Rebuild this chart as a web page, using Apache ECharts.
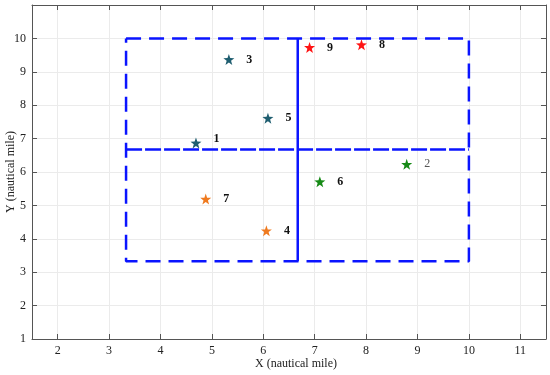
<!DOCTYPE html>
<html>
<head>
<meta charset="utf-8">
<script src="https://cdn.jsdelivr.net/npm/echarts@6/dist/echarts.min.js"></script>
<style>html,body{margin:0;padding:0;background:#fff;}#c{width:550px;height:375px;}</style>
</head>
<body>
<div id="c"></div>
<script>
// ---- data ----
const xTicks = [2, 3, 4, 5, 6, 7, 8, 9, 10, 11];
const yTicks = [1, 2, 3, 4, 5, 6, 7, 8, 9, 10];
const shipIds = ['1', '2', '3', '4', '5', '6', '7', '8', '9'];
const shipX = [4.69, 8.79, 5.33, 6.06, 6.09, 7.10, 4.88, 7.91, 6.90];
const shipY = [6.87, 6.23, 9.37, 4.24, 7.61, 5.71, 5.19, 9.81, 9.73];
const shipGroup = ['teal', 'green', 'teal', 'orange', 'teal', 'green', 'orange', 'red', 'red'];
const regionOuterX = [3.33, 10, 10, 3.33, 3.33];
const regionOuterY = [10, 10, 3.33, 3.33, 10];
const regionMidHX = [3.33, 10];
const regionMidHY = [6.67, 6.67];
const regionMidVX = [6.67, 6.67];
const regionMidVY = [10, 3.33];

// ---- styles ----
const groupColor = { teal: '#1f5e70', green: '#168a16', orange: '#ef7a1f', red: '#ff1414' };
const starPath = 'path://M0,-10 L2.35,-3.24 9.51,-3.09 3.8,1.24 5.88,8.09 0,4 -5.88,8.09 -3.8,1.24 -9.51,-3.09 -2.35,-3.24 Z';
const font = 'Liberation Serif';
const blue = '#0a14ff';

function zip(xs, ys) { return xs.map((x, i) => [x, ys[i]]); }

const starSeries = shipIds.map((id, i) => ({
  type: 'scatter',
  symbol: starPath,
  symbolSize: 11,
  itemStyle: { color: groupColor[shipGroup[i]], opacity: 1 },
  label: {
    show: true,
    formatter: id,
    position: 'right',
    distance: 12,
    offset: id === '1' ? [0, -4] : [0, 0],
    fontFamily: font,
    fontSize: 12,
    fontWeight: id === '2' ? 'normal' : 'bold',
    color: id === '2' ? '#555' : '#111'
  },
  data: [[shipX[i], shipY[i]]],
  z: 5
}));

const lineBase = { type: 'line', symbol: 'none', silent: true, z: 3 };

const option = {
  animation: false,
  backgroundColor: '#fff',
  grid: { left: 32, right: 4, top: 5, bottom: 36, containLabel: false, outerBoundsMode: 'none' },
  xAxis: [
    {
      type: 'value', min: 1.5, max: 11.5, position: 'bottom',
      name: 'X (nautical mile)', nameLocation: 'middle', nameGap: 19, nameMoveOverlap: false,
      nameTextStyle: { fontFamily: font, fontSize: 12, color: '#222', padding: [0, 0, 0, 14] },
      axisLine: { show: true, lineStyle: { color: '#555', width: 1 } },
      axisTick: { show: true, inside: true, length: 5, customValues: xTicks, lineStyle: { color: '#555' } },
      axisLabel: { customValues: xTicks, fontFamily: font, fontSize: 12, color: '#222', margin: 6 },
      splitLine: { show: true, lineStyle: { color: '#ebebeb', width: 1 } }
    },
    {
      type: 'value', min: 1.5, max: 11.5, position: 'top',
      axisLine: { show: true, lineStyle: { color: '#555', width: 1 } },
      axisTick: { show: true, inside: true, length: 5, customValues: xTicks, lineStyle: { color: '#555' } },
      axisLabel: { show: false },
      splitLine: { show: false }
    }
  ],
  yAxis: [
    {
      type: 'value', min: 1, max: 11, position: 'left',
      name: 'Y (nautical mile)', nameLocation: 'middle', nameGap: 15, nameRotate: 90, nameMoveOverlap: false,
      nameTextStyle: { fontFamily: font, fontSize: 12, color: '#222' },
      axisLine: { show: true, lineStyle: { color: '#555', width: 1 } },
      axisTick: { show: true, inside: true, length: 5, customValues: yTicks, lineStyle: { color: '#555' } },
      axisLabel: { customValues: yTicks, fontFamily: font, fontSize: 12, color: '#222', margin: 6 },
      splitLine: { show: true, lineStyle: { color: '#ebebeb', width: 1 } }
    },
    {
      type: 'value', min: 1, max: 11, position: 'right',
      axisLine: { show: true, lineStyle: { color: '#555', width: 1 } },
      axisTick: { show: true, inside: true, length: 5, customValues: yTicks, lineStyle: { color: '#555' } },
      axisLabel: { show: false },
      splitLine: { show: false }
    }
  ],
  series: [
    Object.assign({}, lineBase, {
      data: zip(regionOuterX, regionOuterY),
      lineStyle: { color: blue, width: 2.5, type: [15, 8] }
    }),
    Object.assign({}, lineBase, {
      data: zip(regionMidHX, regionMidHY),
      lineStyle: { color: blue, width: 2.5, type: [16, 3] }
    }),
    Object.assign({}, lineBase, {
      data: zip(regionMidVX, regionMidVY),
      lineStyle: { color: blue, width: 2.5, type: 'solid' }
    })
  ].concat(starSeries)
};

const chart = echarts.init(document.getElementById('c'), null, { renderer: 'canvas' });
chart.setOption(option);
</script>
</body>
</html>
